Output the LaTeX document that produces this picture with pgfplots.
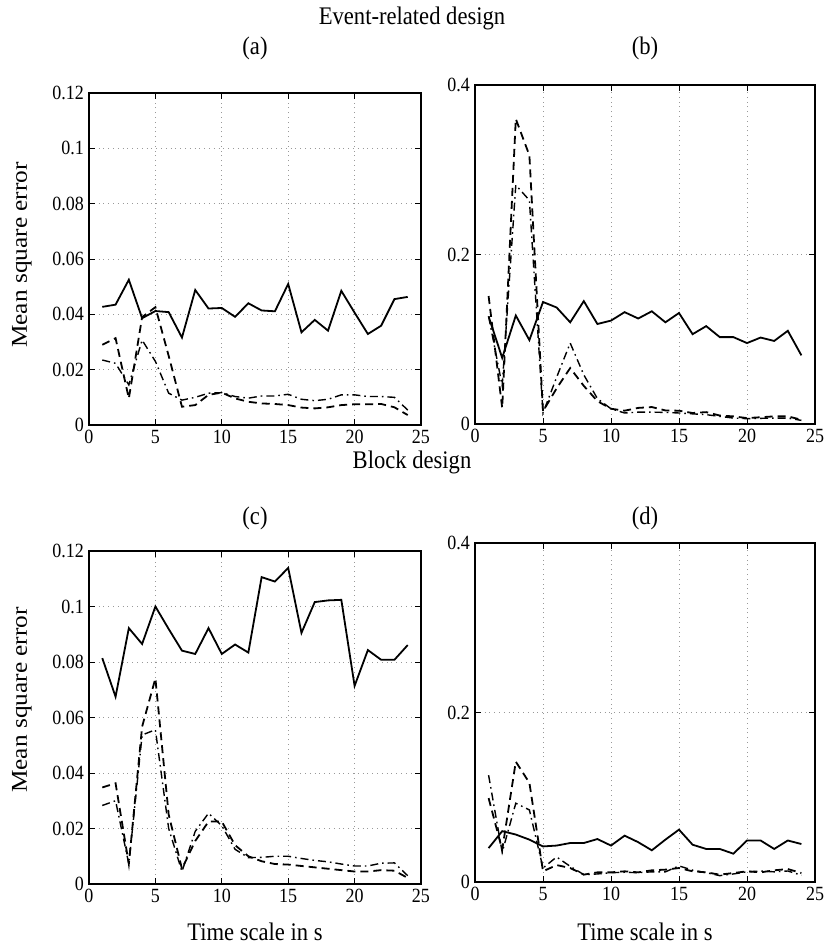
\documentclass[border=0pt]{standalone}
\usepackage{fontspec}
\setmainfont{Liberation Serif}
\usepackage{pgfplots}
\pgfplotsset{compat=1.18}

\newcommand{\tall}[1]{\scalebox{1}[1.12]{#1}}
\newcommand{\wide}[1]{\scalebox{1.12}[1]{#1}}

\pgfplotsset{
  mse/.style={
    scale only axis, anchor=south west,
    xmin=0, xmax=25, xtick={0,5,...,25},
    grid=major,
    grid style={dotted, gray!80, line width=0.5pt},
    axis line style={line width=0.6pt},
    tick align=inside, major tick length=3pt,
    tick style={black, line width=0.5pt},
    tick label style={font=\fontsize{9}{10}\selectfont},
    /pgf/number format/assume math mode=true,
    /pgf/number format/fixed, /pgf/number format/precision=2,
    xticklabel={\tall{\pgfmathprintnumber{\tick}}},
    yticklabel={\tall{\pgfmathprintnumber{\tick}}},
    xticklabel style={yshift=1pt},
    yticklabel style={xshift=1pt},
  },
  msesolid/.style={black, line width=0.9pt, solid},
  msedash/.style={black, line width=0.9pt, dash pattern=on 4pt off 2.5pt},
  msedot/.style={black, line width=0.7pt, dash pattern=on 4pt off 2pt on 0.8pt off 2pt},
}

\begin{document}
\begin{tikzpicture}
\useasboundingbox (0,0) rectangle (412pt,-474.5pt);

\tikzset{lab/.style={font=\fontsize{11.3}{13}\selectfont}}
\node[lab] at (206pt,-9pt) {\tall{Event-related design}};
\node[lab] at (127.5pt,-24pt) {\tall{(a)}};
\node[lab] at (322.5pt,-24pt) {\tall{(b)}};
\node[lab] at (206pt,-231pt) {\tall{Block design}};
\node[lab] at (127.5pt,-259pt) {\tall{(c)}};
\node[lab] at (322.5pt,-259pt) {\tall{(d)}};
\node[lab, rotate=90] at (11pt,-127.5pt) {\wide{Mean square error}};
\node[lab, rotate=90] at (11pt,-350pt) {\wide{Mean square error}};
\node[lab] at (127.5pt,-466pt) {\tall{Time scale in s}};
\node[lab] at (322.5pt,-466pt) {\tall{Time scale in s}};

% (a)
\begin{axis}[mse, at={(44.5pt,-212.5pt)}, width=166pt, height=166pt,
  ymin=0, ymax=0.12, ytick={0,0.02,...,0.12}]
\addplot[msesolid] coordinates {(1,0.0427) (2,0.0435) (3,0.0525) (4,0.0386) (5,0.0412) (6,0.0408) (7,0.0316) (8,0.0488) (9,0.0421) (10,0.0423) (11,0.0391) (12,0.0440) (13,0.0414) (14,0.0411) (15,0.0510) (16,0.0335) (17,0.0380) (18,0.0341) (19,0.0485) (20,0.0406) (21,0.0329) (22,0.0359) (23,0.0455) (24,0.0463)};
\addplot[msedash] coordinates {(1,0.0290) (2,0.0314) (3,0.0096) (4,0.0390) (5,0.0426) (6,0.0250) (7,0.0066) (8,0.0072) (9,0.0109) (10,0.0117) (11,0.0096) (12,0.0084) (13,0.0078) (14,0.0076) (15,0.0072) (16,0.0063) (17,0.0060) (18,0.0064) (19,0.0072) (20,0.0075) (21,0.0075) (22,0.0076) (23,0.0064) (24,0.0036)};
\addplot[msedot] coordinates {(1,0.0235) (2,0.0223) (3,0.0145) (4,0.0307) (5,0.0230) (6,0.0115) (7,0.0090) (8,0.0100) (9,0.0115) (10,0.0117) (11,0.0103) (12,0.0097) (13,0.0105) (14,0.0105) (15,0.0111) (16,0.0093) (17,0.0088) (18,0.0093) (19,0.0109) (20,0.0109) (21,0.0103) (22,0.0103) (23,0.0100) (24,0.0054)};
\end{axis}

% (b)
\begin{axis}[mse, at={(237.5pt,-212pt)}, width=170pt, height=169.5pt,
  ymin=0, ymax=0.4, ytick={0,0.2,0.4}]
\addplot[msesolid] coordinates {(1,0.127) (2,0.078) (3,0.128) (4,0.099) (5,0.144) (6,0.1375) (7,0.120) (8,0.145) (9,0.118) (10,0.122) (11,0.132) (12,0.1245) (13,0.133) (14,0.120) (15,0.131) (16,0.106) (17,0.1155) (18,0.1025) (19,0.1025) (20,0.0955) (21,0.102) (22,0.098) (23,0.110) (24,0.081)};
\addplot[msedash] coordinates {(1,0.151) (2,0.019) (3,0.360) (4,0.317) (5,0.015) (6,0.042) (7,0.066) (8,0.045) (9,0.027) (10,0.018) (11,0.0157) (12,0.019) (13,0.020) (14,0.016) (15,0.0157) (16,0.013) (17,0.014) (18,0.010) (19,0.009) (20,0.007) (21,0.008) (22,0.009) (23,0.009) (24,0.005)};
\addplot[msedot] coordinates {(1,0.127) (2,0.045) (3,0.282) (4,0.264) (5,0.013) (6,0.055) (7,0.0955) (8,0.058) (9,0.030) (10,0.018) (11,0.013) (12,0.014) (13,0.014) (14,0.0137) (15,0.013) (16,0.012) (17,0.011) (18,0.009) (19,0.007) (20,0.0063) (21,0.0067) (22,0.007) (23,0.007) (24,0.0043)};
\end{axis}

% (c)
\begin{axis}[mse, at={(44.5pt,-442pt)}, width=166pt, height=166.5pt,
  ymin=0, ymax=0.12, ytick={0,0.02,...,0.12}]
\addplot[msesolid] coordinates {(1,0.0814) (2,0.0675) (3,0.0922) (4,0.0865) (5,0.1000) (6,0.0919) (7,0.0841) (8,0.0829) (9,0.0922) (10,0.0829) (11,0.0863) (12,0.0834) (13,0.1106) (14,0.1090) (15,0.1139) (16,0.0905) (17,0.1016) (18,0.1022) (19,0.1024) (20,0.0714) (21,0.0843) (22,0.0808) (23,0.0808) (24,0.0861)};
\addplot[msedash] coordinates {(1,0.0348) (2,0.0363) (3,0.0072) (4,0.0567) (5,0.0741) (6,0.0250) (7,0.0055) (8,0.0155) (9,0.0225) (10,0.0225) (11,0.0140) (12,0.0100) (13,0.0082) (14,0.0072) (15,0.0070) (16,0.0065) (17,0.0060) (18,0.0055) (19,0.0050) (20,0.0045) (21,0.0045) (22,0.0050) (23,0.0048) (24,0.0022)};
\addplot[msedot] coordinates {(1,0.0283) (2,0.0300) (3,0.0072) (4,0.0537) (5,0.0556) (6,0.0200) (7,0.0045) (8,0.0190) (9,0.0255) (10,0.0210) (11,0.0125) (12,0.0095) (13,0.0096) (14,0.0100) (15,0.0100) (16,0.0092) (17,0.0085) (18,0.0080) (19,0.0072) (20,0.0065) (21,0.0065) (22,0.0075) (23,0.0076) (24,0.0030)};
\end{axis}

% (d)
\begin{axis}[mse, at={(237.5pt,-441pt)}, width=170pt, height=169.5pt,
  ymin=0, ymax=0.4, ytick={0,0.2,0.4}]
\addplot[msesolid] coordinates {(1,0.040) (2,0.060) (3,0.056) (4,0.050) (5,0.042) (6,0.043) (7,0.046) (8,0.046) (9,0.0507) (10,0.043) (11,0.0547) (12,0.047) (13,0.0374) (14,0.050) (15,0.0618) (16,0.044) (17,0.039) (18,0.039) (19,0.0334) (20,0.049) (21,0.049) (22,0.039) (23,0.049) (24,0.0448)};
\addplot[msedash] coordinates {(1,0.099) (2,0.038) (3,0.142) (4,0.117) (5,0.0126) (6,0.020) (7,0.0165) (8,0.0087) (9,0.0114) (10,0.0114) (11,0.0126) (12,0.0114) (13,0.0138) (14,0.0146) (15,0.0165) (16,0.0126) (17,0.0114) (18,0.0087) (19,0.0106) (20,0.0126) (21,0.0114) (22,0.0138) (23,0.0153) (24,0.0106)};
\addplot[msedot] coordinates {(1,0.126) (2,0.035) (3,0.093) (4,0.085) (5,0.0165) (6,0.0295) (7,0.0185) (8,0.0087) (9,0.0095) (10,0.011) (11,0.0115) (12,0.011) (13,0.012) (14,0.012) (15,0.019) (16,0.014) (17,0.011) (18,0.0075) (19,0.0095) (20,0.012) (21,0.013) (22,0.012) (23,0.013) (24,0.008)};
\end{axis}
\end{tikzpicture}
\end{document}
